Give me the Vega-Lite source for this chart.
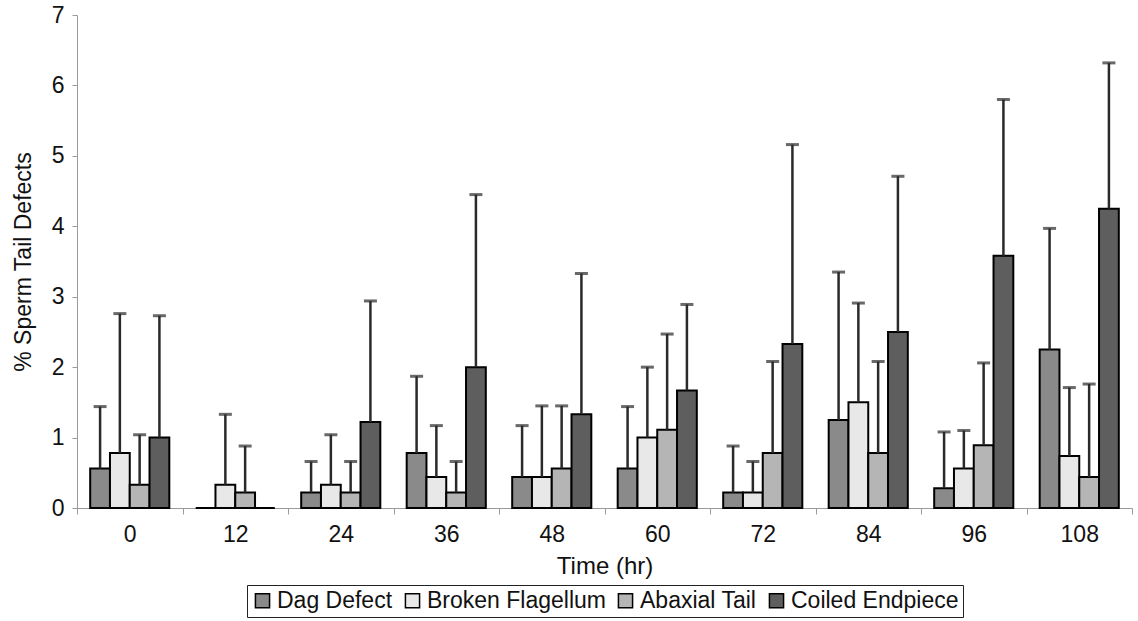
{
  "$schema": "https://vega.github.io/schema/vega-lite/v6.json",
  "width": 1055,
  "height": 493,
  "autosize": {"type": "none"},
  "padding": {"left": 77, "top": 15, "right": 6, "bottom": 113},
  "config": {
    "view": {"stroke": null},
    "font": "Liberation Sans",
    "legend": {"layout": {"bottom": {"anchor": "middle"}}}
  },
  "data": {
    "values": [
      {"time": "0", "defect": "Dag Defect", "value": 0.56, "upper": 1.44},
      {"time": "0", "defect": "Broken Flagellum", "value": 0.78, "upper": 2.76},
      {"time": "0", "defect": "Abaxial Tail", "value": 0.33, "upper": 1.04},
      {"time": "0", "defect": "Coiled Endpiece", "value": 1.0, "upper": 2.73},
      {"time": "12", "defect": "Dag Defect", "value": 0, "upper": null},
      {"time": "12", "defect": "Broken Flagellum", "value": 0.33, "upper": 1.33},
      {"time": "12", "defect": "Abaxial Tail", "value": 0.22, "upper": 0.88},
      {"time": "12", "defect": "Coiled Endpiece", "value": 0, "upper": null},
      {"time": "24", "defect": "Dag Defect", "value": 0.22, "upper": 0.66},
      {"time": "24", "defect": "Broken Flagellum", "value": 0.33, "upper": 1.04},
      {"time": "24", "defect": "Abaxial Tail", "value": 0.22, "upper": 0.66},
      {"time": "24", "defect": "Coiled Endpiece", "value": 1.22, "upper": 2.94},
      {"time": "36", "defect": "Dag Defect", "value": 0.78, "upper": 1.87},
      {"time": "36", "defect": "Broken Flagellum", "value": 0.44, "upper": 1.17},
      {"time": "36", "defect": "Abaxial Tail", "value": 0.22, "upper": 0.66},
      {"time": "36", "defect": "Coiled Endpiece", "value": 2.0, "upper": 4.45},
      {"time": "48", "defect": "Dag Defect", "value": 0.44, "upper": 1.17},
      {"time": "48", "defect": "Broken Flagellum", "value": 0.44, "upper": 1.45},
      {"time": "48", "defect": "Abaxial Tail", "value": 0.56, "upper": 1.45},
      {"time": "48", "defect": "Coiled Endpiece", "value": 1.33, "upper": 3.33},
      {"time": "60", "defect": "Dag Defect", "value": 0.56, "upper": 1.44},
      {"time": "60", "defect": "Broken Flagellum", "value": 1.0, "upper": 2.0},
      {"time": "60", "defect": "Abaxial Tail", "value": 1.11, "upper": 2.47},
      {"time": "60", "defect": "Coiled Endpiece", "value": 1.67, "upper": 2.89},
      {"time": "72", "defect": "Dag Defect", "value": 0.22, "upper": 0.88},
      {"time": "72", "defect": "Broken Flagellum", "value": 0.22, "upper": 0.66},
      {"time": "72", "defect": "Abaxial Tail", "value": 0.78, "upper": 2.08},
      {"time": "72", "defect": "Coiled Endpiece", "value": 2.33, "upper": 5.16},
      {"time": "84", "defect": "Dag Defect", "value": 1.25, "upper": 3.35},
      {"time": "84", "defect": "Broken Flagellum", "value": 1.5, "upper": 2.91},
      {"time": "84", "defect": "Abaxial Tail", "value": 0.78, "upper": 2.08},
      {"time": "84", "defect": "Coiled Endpiece", "value": 2.5, "upper": 4.71},
      {"time": "96", "defect": "Dag Defect", "value": 0.28, "upper": 1.08},
      {"time": "96", "defect": "Broken Flagellum", "value": 0.56, "upper": 1.1},
      {"time": "96", "defect": "Abaxial Tail", "value": 0.89, "upper": 2.06},
      {"time": "96", "defect": "Coiled Endpiece", "value": 3.58, "upper": 5.8},
      {"time": "108", "defect": "Dag Defect", "value": 2.25, "upper": 3.97},
      {"time": "108", "defect": "Broken Flagellum", "value": 0.74, "upper": 1.71},
      {"time": "108", "defect": "Abaxial Tail", "value": 0.44, "upper": 1.76},
      {"time": "108", "defect": "Coiled Endpiece", "value": 4.25, "upper": 6.32}
    ]
  },
  "encoding": {
    "x": {
      "field": "time",
      "type": "ordinal",
      "sort": ["0", "12", "24", "36", "48", "60", "72", "84", "96", "108"],
      "scale": {"paddingInner": 0, "paddingOuter": 0},
      "title": "Time (hr)",
      "axis": {
        "labelAngle": 0,
        "tickBand": "extent",
        "domainColor": "#9a9a9a",
        "tickColor": "#9a9a9a",
        "tickSize": 6,
        "labelFontSize": 23,
        "labelColor": "#111",
        "labelPadding": 9,
        "titleFontSize": 24,
        "titleFontWeight": "normal",
        "titleColor": "#111",
        "titlePadding": 8
      }
    },
    "xOffset": {
      "field": "defect",
      "type": "nominal",
      "sort": ["Dag Defect", "Broken Flagellum", "Abaxial Tail", "Coiled Endpiece"],
      "scale": {"paddingInner": 0, "paddingOuter": 0.667}
    }
  },
  "layer": [
    {
      "mark": {"type": "bar", "stroke": "black", "strokeWidth": 2},
      "encoding": {
        "y": {
          "field": "value",
          "type": "quantitative",
          "scale": {"domain": [0, 7]},
          "title": "% Sperm Tail Defects",
          "axis": {
            "values": [0, 1, 2, 3, 4, 5, 6, 7],
            "format": "d",
            "grid": false,
            "domainColor": "#9a9a9a",
            "tickColor": "#9a9a9a",
            "tickSize": 5,
            "labelFontSize": 23,
            "labelColor": "#111",
            "labelPadding": 8,
            "titleFontSize": 23,
            "titleFontWeight": "normal",
            "titleColor": "#111",
            "titlePadding": 16
          }
        },
        "fill": {
          "field": "defect",
          "type": "nominal",
          "sort": ["Dag Defect", "Broken Flagellum", "Abaxial Tail", "Coiled Endpiece"],
          "scale": {"range": ["#8a8a8a", "#e8e8e8", "#b5b5b5", "#5e5e5e"]},
          "legend": {
            "orient": "bottom",
            "direction": "horizontal",
            "title": null,
            "strokeColor": "#222",
            "padding": 4,
            "offset": 7,
            "labelFontSize": 23,
            "labelLimit": 0,
            "labelColor": "#111",
            "labelOffset": 3,
            "columnPadding": 8,
            "symbolType": "square",
            "symbolSize": 200,
            "symbolStrokeColor": "black",
            "symbolStrokeWidth": 1.5
          }
        }
      }
    },
    {
      "mark": {"type": "rule", "color": "#2a2a2a", "strokeWidth": 2.5},
      "encoding": {
        "y": {"field": "value", "type": "quantitative", "title": "% Sperm Tail Defects"},
        "y2": {"field": "upper"}
      }
    },
    {
      "mark": {"type": "tick", "color": "#2a2a2a", "thickness": 3, "size": 13},
      "encoding": {
        "y": {"field": "upper", "type": "quantitative", "title": "% Sperm Tail Defects"}
      }
    }
  ]
}
